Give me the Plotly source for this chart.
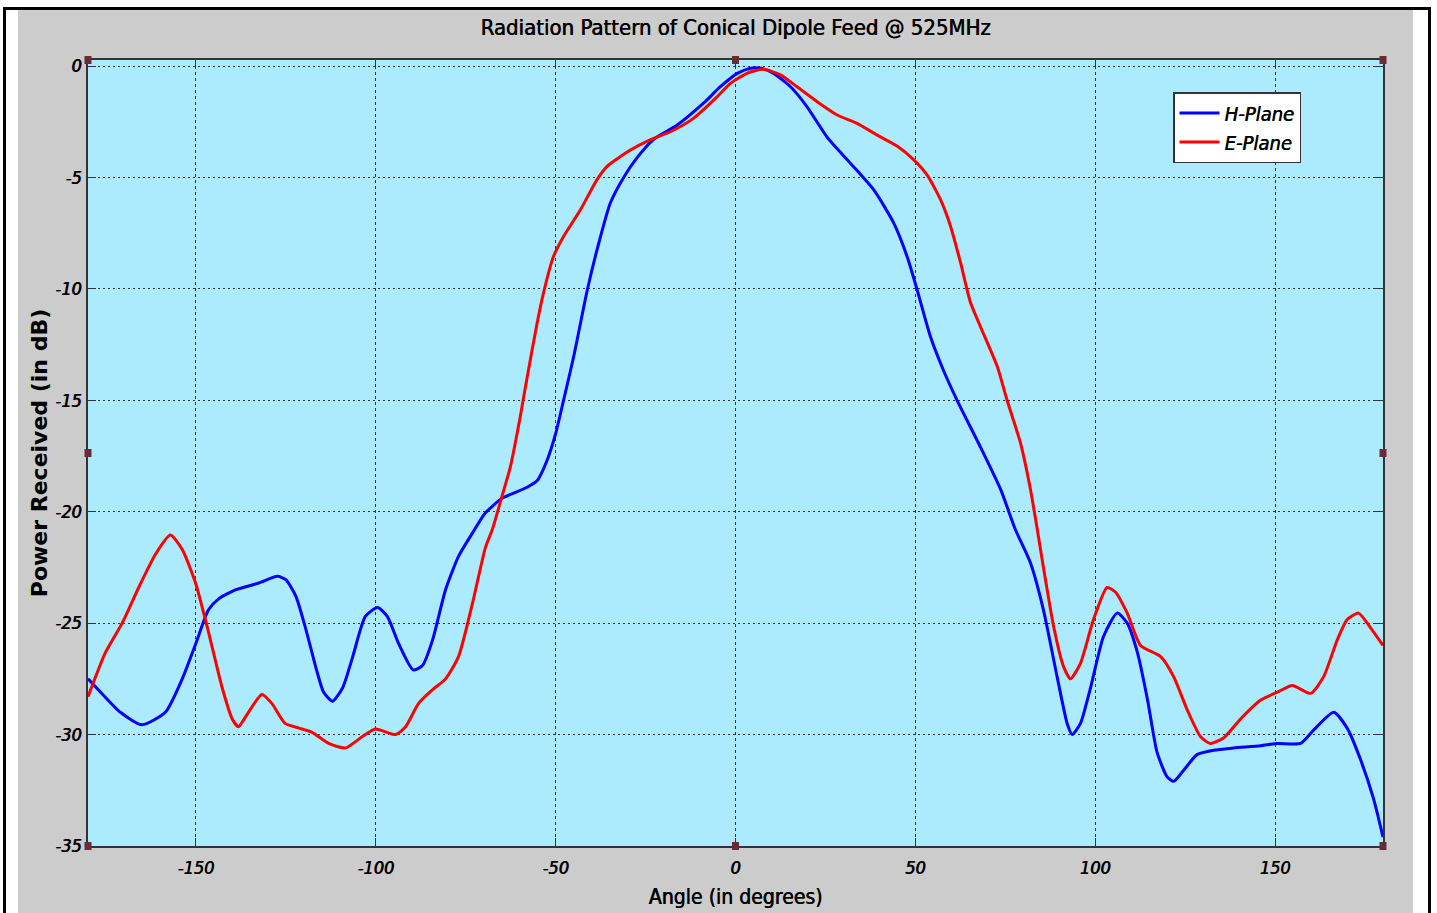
import plotly.graph_objects as go

# Measured radiation pattern of the conical dipole feed at 525 MHz
h_angle = [-180, -176.5, -171, -165, -158.5, -153.8, -150, -146.5, -143.6, -138.9,
           -132.5, -127.3, -125, -122.2, -119.4, -116.7, -114.5, -112, -109.2, -106.4,
           -102.9, -99.5, -96.8, -93.7, -89.6, -87, -84.2, -80.6, -77, -73.1,
           -69.5, -64.9, -57.9, -55.1, -52.4, -50, -47.8, -45, -41.2, -38.5,
           -34.8, -31.1, -27.3, -22.8, -16.2, -8.9, -4.2, 0.5, 4.2, 7,
           10.6, 15.3, 19.9, 25.5, 32, 38.4, 44, 47.7, 50.5, 54.2,
           57.8, 61.6, 68.1, 73.7, 77.8, 82, 85.6, 89.4, 92.2, 93.6,
           95.9, 98.7, 102.3, 106.1, 108.9, 111.7, 114.5, 117.2, 120, 121.8,
           124.6, 128.3, 132.9, 138.5, 146, 150.6, 157.1, 160.7, 166.3, 170,
           173.7, 177.4, 180]
h_plane = [-27.5, -28.1, -29.0, -29.56, -29.0, -27.5, -25.9, -24.4, -23.9, -23.5,
           -23.2, -22.9, -23.05, -23.8, -25.3, -26.96, -28.1, -28.5, -27.9, -26.5,
           -24.7, -24.3, -24.7, -25.9, -27.1, -26.9, -25.75, -23.5, -22.0, -20.95,
           -20.05, -19.4, -18.9, -18.6, -17.7, -16.5, -15.0, -13.05, -10.05, -8.25,
           -6.15, -5.0, -4.1, -3.3, -2.65, -1.67, -0.93, -0.33, -0.1, -0.1,
           -0.33, -0.93, -1.83, -3.2, -4.37, -5.55, -7.05, -8.55, -10.05, -12.15,
           -13.65, -15.0, -17.1, -19.0, -20.8, -22.3, -24.4, -27.4, -29.5, -30.0,
           -29.5, -27.9, -25.6, -24.55, -25.0, -26.3, -28.4, -30.8, -31.9, -32.1,
           -31.6, -30.9, -30.7, -30.6, -30.5, -30.4, -30.4, -29.8, -29.0, -29.7,
           -31.1, -32.9, -34.6]

e_angle = [-180, -175.1, -170.5, -165.9, -161.2, -157.1, -153.8, -150.1, -146.5, -142.7,
           -139.9, -138.2, -135.4, -131.7, -128.9, -125.2, -121.5, -117.7, -113.1, -108.4,
           -103.8, -100.1, -94.5, -91.7, -88.1, -84.3, -80.6, -77, -73.1, -69.5,
           -67.6, -64.9, -62.6, -59.8, -57.9, -55.1, -53.4, -50.6, -47.8, -43.1,
           -38.5, -35.7, -29.2, -23.6, -18.1, -11.7, -5.1, -1.4, 3.2, 7.8,
           12.5, 17.1, 22.7, 28.3, 33.8, 39.4, 45, 49.5, 53.3, 57,
           59.8, 62.6, 65.3, 68.1, 72.8, 75.5, 79.2, 82, 83.9, 85.3,
           88.5, 91.2, 93.1, 95.9, 99.5, 103.3, 105.6, 108.9, 112.6, 118.2,
           121.8, 125.6, 129.3, 132, 135.7, 140.4, 146, 150.6, 154.8, 159.9,
           163.5, 167.3, 170, 173.2, 176.5, 180]
e_plane = [-28.3, -26.3, -25.0, -23.4, -21.9, -21.05, -21.7, -23.2, -25.4, -27.9,
           -29.3, -29.65, -29.0, -28.2, -28.6, -29.5, -29.7, -29.9, -30.4, -30.6,
           -30.1, -29.75, -30.0, -29.65, -28.6, -28.0, -27.5, -26.5, -24.1, -21.6,
           -20.8, -19.3, -18.0, -15.7, -13.95, -11.5, -10.2, -8.55, -7.65, -6.45,
           -5.1, -4.5, -3.77, -3.3, -2.95, -2.35, -1.38, -0.78, -0.33, -0.15,
           -0.4, -0.93, -1.6, -2.2, -2.57, -3.1, -3.6, -4.2, -4.9, -6.0,
           -7.2, -8.85, -10.6, -11.7, -13.5, -15.0, -16.9, -19.0, -20.8, -22.2,
           -25.2, -26.95, -27.5, -26.8, -24.85, -23.4, -23.6, -24.55, -26.0, -26.5,
           -27.4, -28.9, -30.1, -30.4, -30.15, -29.3, -28.45, -28.1, -27.8, -28.15,
           -27.4, -25.75, -24.85, -24.55, -25.2, -26.0]

x_ticks = [-150, -100, -50, 0, 50, 100, 150]
y_ticks = [0, -5, -10, -15, -20, -25, -30, -35]

W, H = 1437, 913
L, R, T, B = 88, 1383, 60, 846
PW, PH = R - L, B - T


def px(x):
    return (x - L) / PW


def py(y):
    return (B - y) / PH


narrow = "DejaVu Sans Condensed, Liberation Sans, sans-serif"
heavy = "0.6px 0px 0px black"  # thickens the condensed glyphs a little

fig = go.Figure()
fig.add_trace(go.Scatter(x=h_angle, y=h_plane, name="H-Plane", mode="lines",
                         line=dict(color="#0000ff", width=3, shape="spline", smoothing=0.6)))
fig.add_trace(go.Scatter(x=e_angle, y=e_plane, name="E-Plane", mode="lines",
                         line=dict(color="#ff0000", width=3, shape="spline", smoothing=0.6)))

shapes = []


def rect(x0, y0, x1, y1, color):
    shapes.append(dict(type="rect", xref="paper", yref="paper",
                       x0=px(x0), x1=px(x1), y0=py(y0), y1=py(y1),
                       fillcolor=color, line=dict(width=0), layer="above"))


# white margins and the black outer frame
rect(0, 0, W, 8, "white")
rect(0, 0, 18, H, "white")
rect(1413, 0, W, H, "white")
rect(3, 7, 1431, 10, "black")
rect(3, 7, 6, H, "black")
rect(1428, 7, 1431, H, "black")

# selection handles around the axes box
handle = "#6b2a38"
for hx, hy in [(L, T), ((L + R) / 2, T), (R, T), (L, (T + B) / 2), (R, (T + B) / 2),
               (L, B), ((L + R) / 2, B), (R, B)]:
    rect(hx - 3.5, hy - 4, hx + 3.5, hy + 4, handle)

tick_font = dict(family=narrow, size=18, color="black", style="italic", shadow=heavy)

fig.update_layout(
    width=W, height=H,
    margin=dict(l=L, r=W - R, t=T, b=H - B, autoexpand=False),
    paper_bgcolor="#cccccc",
    plot_bgcolor="#abebfd",
    shapes=shapes,
    title=dict(text="Radiation Pattern of Conical Dipole Feed @ 525MHz",
               x=0.5, xref="paper", xanchor="center",
               y=1 - 27 / H, yref="container", yanchor="middle",
               font=dict(family=narrow, size=22, color="black", shadow=heavy)),
    showlegend=True,
    legend=dict(x=px(1173), y=py(92), xanchor="left", yanchor="top",
                bgcolor="white", bordercolor="#333333", borderwidth=1.5,
                font=dict(family=narrow, size=20, color="black", style="italic", shadow=heavy),
                itemwidth=40, tracegroupgap=4),
    xaxis=dict(range=[-180, 180], tickvals=x_ticks, ticktext=[str(v) for v in x_ticks],
               showgrid=True, gridcolor="#333333", gridwidth=1, griddash="3px,3px",
               zeroline=False, showline=True, linecolor="#333333", linewidth=1.5,
               mirror="ticks", ticks="inside", ticklen=8, tickcolor="#333333",
               tickfont=tick_font, ticklabelstandoff=5, automargin=False,
               title=dict(text="Angle (in degrees)", standoff=12,
                          font=dict(family=narrow, size=21, color="black", shadow=heavy))),
    yaxis=dict(range=[-35, 0.27], tickvals=y_ticks, ticktext=[str(v) for v in y_ticks],
               showgrid=True, gridcolor="#333333", gridwidth=1, griddash="2px,3px",
               zeroline=False, showline=True, linecolor="#333333", linewidth=1.5,
               mirror="ticks", ticks="inside", ticklen=8, tickcolor="#333333",
               tickfont=tick_font, ticklabelstandoff=1, automargin=False,
               title=dict(text="Power Received (in dB)", standoff=1,
                          font=dict(family="DejaVu Sans", size=22, color="black", weight="bold"))),
)

fig.write_html("out.html")
